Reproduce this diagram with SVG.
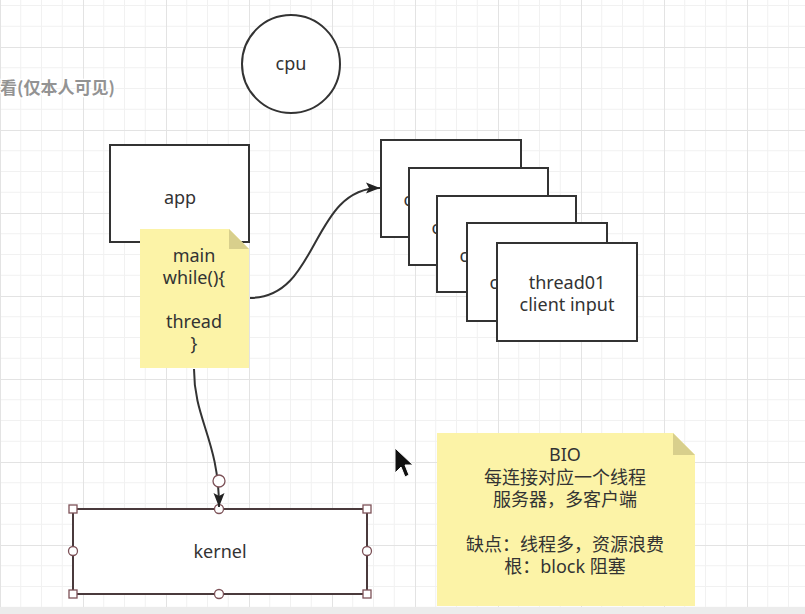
<svg xmlns="http://www.w3.org/2000/svg" width="805" height="614" viewBox="0 0 805 614">
<style>
.t{font-family:"Noto Sans","Noto Sans CJK SC",sans-serif;font-size:18px;fill:#333;text-anchor:middle}
.box{fill:#fff;stroke:#333;stroke-width:2}
.note{fill:#fcf3a7}
.fold{fill:#d8cf8c}
.edge{fill:none;stroke:#333;stroke-width:2}
.h{fill:#fff;stroke:#7d5258;stroke-width:1.3}
</style>
<defs>
<pattern id="grid" patternUnits="userSpaceOnUse" x="0" y="47" width="83" height="83">
<path d="M20.75,0V83M41.5,0V83M62.25,0V83M0,20.75H83M0,41.5H83M0,62.25H83" stroke="#f1f1f1" stroke-width="1" fill="none"/>
<path d="M0.5,0V83M0,0.5H83" stroke="#e3e3e3" stroke-width="1" fill="none"/>
</pattern>
<marker id="arr" markerUnits="userSpaceOnUse" markerWidth="16" markerHeight="12" refX="14" refY="6" orient="auto">
<path d="M0,0.5 L14,6 L0,11.5 L3,6 Z" fill="#222"/>
</marker>
</defs>
<rect width="805" height="614" fill="#fff"/>
<rect width="805" height="614" fill="url(#grid)"/>
<rect x="0" y="607" width="805" height="7" fill="#ececec"/>

<text x="0" y="94" font-family="Noto Sans CJK SC,sans-serif" font-size="17" font-weight="bold" fill="#939393" stroke="#fff" stroke-width="2.5" paint-order="stroke">看(仅本人可见)</text>

<g id="cpu">
<circle cx="291" cy="64" r="49" class="box"/>
<text class="t" x="291" y="70">cpu</text>
</g>

<g id="app">
<rect x="110" y="145" width="139" height="97" class="box"/>
<text class="t" x="180" y="204">app</text>
</g>

<g id="thread1">
<rect x="381" y="140" width="140" height="97" class="box"/>
<text class="t" x="451" y="206">client input</text>
</g>
<g id="thread2">
<rect x="409" y="168" width="139" height="97" class="box"/>
<text class="t" x="479" y="234">client input</text>
</g>
<g id="thread3">
<rect x="437" y="196" width="139" height="96" class="box"/>
<text class="t" x="507" y="262">client input</text>
</g>
<g id="thread4">
<rect x="467" y="223" width="140" height="98" class="box"/>
<text class="t" x="537" y="289">client input</text>
</g>
<g id="thread5">
<rect x="497" y="243" width="140" height="98" class="box"/>
<text class="t" x="567" y="289">thread01</text>
<text class="t" x="567" y="311">client input</text>
</g>

<g id="main-note">
<path class="note" d="M140,229 L229,229 L249,249 L249,368 L140,368 Z"/>
<path class="fold" d="M229,229 L229,249 L249,249 Z"/>
<text class="t" x="194" y="262">main</text>
<text class="t" x="194" y="284">while(){</text>
<text class="t" x="194" y="328">thread</text>
<text class="t" x="194" y="350">}</text>
</g>

<g id="kernel">
<rect x="73" y="509" width="294" height="85" fill="#fff" stroke="#4a3a3c" stroke-width="2"/>
<text class="t" x="220" y="558" fill="#444">kernel</text>
<rect class="h" x="69" y="505" width="8" height="8"/>
<rect class="h" x="363" y="505" width="8" height="8"/>
<rect class="h" x="69" y="590" width="8" height="8"/>
<rect class="h" x="363" y="590" width="8" height="8"/>
<circle class="h" cx="219" cy="509" r="4.5"/>
<circle class="h" cx="219" cy="594" r="4.5"/>
<circle class="h" cx="73" cy="551" r="4.5"/>
<circle class="h" cx="367" cy="551" r="4.5"/>
</g>

<g id="bio-note">
<path class="note" d="M437,433 L673,433 L695,455 L695,606 L437,606 Z"/>
<path class="fold" d="M673,433 L673,455 L695,455 Z"/>
<text class="t" x="565" y="461">BIO</text>
<text class="t" x="565" y="484">每连接对应一个线程</text>
<text class="t" x="565" y="506">服务器，多客户端</text>
<text class="t" x="565" y="551">缺点：线程多，资源浪费</text>
<text class="t" x="565" y="573">根：block  阻塞</text>
</g>

<g id="connectors">
<path class="edge" d="M250,298 C320,298 310,188 380,188" marker-end="url(#arr)"/>
<path class="edge" d="M194,369 C194,420 219,440 219,507" marker-end="url(#arr)"/>
<circle class="h" cx="219" cy="481" r="6"/>
</g>

<path d="M395,448 L395,473 L401,467 L405,477 L409,475 L405,465 L413,465 Z" fill="#111" stroke="#fff" stroke-width="1"/>
</svg>
